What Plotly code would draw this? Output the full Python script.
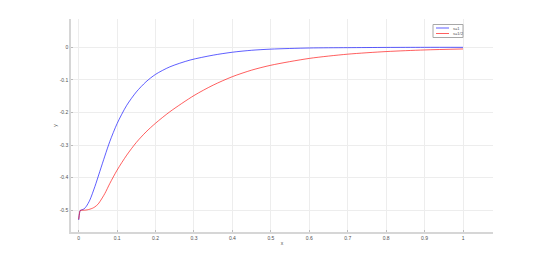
import plotly.graph_objects as go

# ---- data ----
x_s1 = [0, 0.002, 0.004, 0.008, 0.014, 0.02, 0.029, 0.042, 0.055, 0.068, 0.081,
        0.1, 0.125, 0.15, 0.175, 0.2, 0.237, 0.29, 0.35, 0.4, 0.45, 0.5,
        0.6, 0.7, 0.8, 0.9, 1.0]
y_s1 = [-0.53, -0.51, -0.501, -0.499, -0.496, -0.488, -0.469, -0.428, -0.381, -0.334, -0.289,
        -0.234, -0.178, -0.137, -0.106, -0.083, -0.060, -0.039, -0.024, -0.015, -0.009, -0.0055,
        -0.002, -0.001, -0.0003, 0.0, 0.0]

x_s2 = [0, 0.002, 0.004, 0.008, 0.015, 0.022, 0.029, 0.036, 0.042, 0.05, 0.055, 0.068, 0.081,
        0.1, 0.125, 0.15, 0.175, 0.2, 0.237, 0.3, 0.35, 0.4, 0.45, 0.5,
        0.6, 0.7, 0.8, 0.9, 1.0]
y_s2 = [-0.528, -0.51, -0.501, -0.5, -0.5, -0.499, -0.497, -0.494, -0.49, -0.482, -0.474, -0.449, -0.418,
        -0.377, -0.331, -0.292, -0.260, -0.233, -0.198, -0.148, -0.116, -0.090, -0.070, -0.055,
        -0.034, -0.021, -0.013, -0.008, -0.005]

series_names = ["s=1", "s=1/2"]
series_colors = ["rgba(0,0,255,0.7)", "rgba(255,0,0,0.7)"]

x_tickvals = [0, 0.1, 0.2, 0.3, 0.4, 0.5, 0.6, 0.7, 0.8, 0.9, 1]
x_ticktext = ["0", "0.1", "0.2", "0.3", "0.4", "0.5", "0.6", "0.7", "0.8", "0.9", "1"]
y_tickvals = [0, -0.1, -0.2, -0.3, -0.4, -0.5]
y_ticktext = ["0", "-0.1", "-0.2", "-0.3", "-0.4", "-0.5"]

FONT = "Liberation Sans, Arial, sans-serif"
TXT = "#505050"

fig = go.Figure()
for xs, ys, name, col in [(x_s1, y_s1, series_names[0], series_colors[0]),
                          (x_s2, y_s2, series_names[1], series_colors[1])]:
    fig.add_trace(go.Scatter(x=xs, y=ys, mode="lines", name=name,
                             line=dict(color=col, width=0.9, shape="spline", smoothing=0.8),
                             showlegend=False))

axis_common = dict(
    showgrid=True, gridcolor="#ededed", gridwidth=1,
    showline=True, linecolor="#d6d6d6", linewidth=1.5, mirror=False,
    ticks="inside", ticklen=2, tickcolor="#bcbcbc", tickwidth=1,
    zeroline=False,
    tickfont=dict(family=FONT, size=5, color=TXT),
)

fig.update_layout(
    width=545, height=263,
    margin=dict(l=71, r=52, t=19, b=31),
    paper_bgcolor="white", plot_bgcolor="white",
    xaxis=dict(range=[-0.02, 1.078], tickvals=x_tickvals, ticktext=x_ticktext,
               title=dict(text="x", font=dict(family=FONT, size=5, color=TXT), standoff=2),
               **axis_common),
    yaxis=dict(range=[-0.567, 0.087], tickvals=y_tickvals, ticktext=y_ticktext,
               title=dict(text="y", font=dict(family=FONT, size=5, color=TXT), standoff=2),
               **axis_common),
)

# manual compact legend (paper coordinates)
def px_to_paper_x(px):
    return (px - 71) / 422.0

def py_to_paper_y(py):
    return (232.5 - py) / 213.0

fig.add_shape(type="rect", xref="paper", yref="paper",
              x0=px_to_paper_x(433), x1=px_to_paper_x(463),
              y0=py_to_paper_y(38), y1=py_to_paper_y(25),
              line=dict(color="#a8a8a8", width=1), fillcolor="white")
for i, (name, col) in enumerate(zip(series_names, series_colors)):
    yy = py_to_paper_y(28.5 + i * 5.5)
    fig.add_shape(type="line", xref="paper", yref="paper",
                  x0=px_to_paper_x(436), x1=px_to_paper_x(449), y0=yy, y1=yy,
                  line=dict(color=col, width=0.9))
    fig.add_annotation(xref="paper", yref="paper", x=px_to_paper_x(450.5), y=yy,
                       text=name, showarrow=False, xanchor="left", yanchor="middle",
                       font=dict(family=FONT, size=4, color=TXT))

fig.write_html("out.html")
